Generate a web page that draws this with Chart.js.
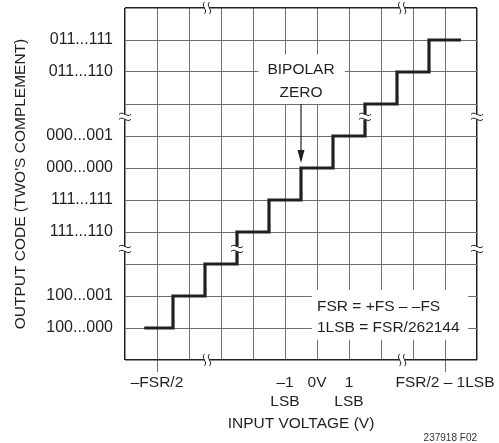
<!DOCTYPE html>
<html>
<head>
<meta charset="utf-8">
<script src="https://cdn.jsdelivr.net/npm/chart.js@4.4.1/dist/chart.umd.min.js"></script>
<style>
  html, body { margin: 0; padding: 0; background: #fff; }
  #wrap { width: 499px; height: 443px; position: relative; }
</style>
</head>
<body>
<div id="wrap"><canvas id="adcChart"></canvas></div>
<script>
"use strict";

// Output code tick positions (grid rows) and their labels
const codeTicks = [1, 2, 4, 5, 6, 7, 9, 10];
const codeLabels = ['100...000', '100...001', '111...110', '111...111',
                    '000...000', '000...001', '011...110', '011...111'];

// Input voltage tick positions (grid columns) and their labels
const voltTicks = [1, 5, 6, 7, 10];
const voltLabels = [['\u2013FSR/2'], ['\u20131', 'LSB'], ['0V'], ['1', 'LSB'], ['FSR/2 \u2013 1LSB']];

// Transfer staircase: input edges and output code levels
const stepInput = [0.6, 1.5, 2.5, 3.5, 4.5, 5.5, 6.5, 7.5, 8.5, 9.5, 10.5];
const stepCode  = [1, 2, 3, 4, 5, 6, 7, 8, 9, 10, 10];

// Where the axes / staircase are broken (data units)
const breaksOnXAxis = [2.56, 8.66];
const breaksOnYAxis = [3.47, 7.6];
const breaksOnStair = [[3.5, 3.47], [7.5, 7.6]];

const FONT = '"Liberation Sans", Arial, sans-serif';
const INK = '#231f20';
const GRID = '#6d6e71';

const codeMap = {};
codeTicks.forEach((v, i) => { codeMap[v] = codeLabels[i]; });
const voltMap = {};
voltTicks.forEach((v, i) => { voltMap[v] = voltLabels[i]; });

function drawWave(ctx, x, y, vertical) {
    // a small tilde, horizontal or rotated 90deg
    ctx.beginPath();
    if (vertical) {
        ctx.moveTo(x, y - 6);
        ctx.bezierCurveTo(x - 4, y - 2, x + 4, y + 2, x, y + 6);
    } else {
        ctx.moveTo(x - 6, y);
        ctx.bezierCurveTo(x - 2, y - 4, x + 2, y + 4, x + 6, y);
    }
    ctx.stroke();
}

function drawBreak(ctx, px, py, vertical) {
    ctx.save();
    ctx.fillStyle = '#fff';
    ctx.strokeStyle = INK;
    ctx.lineWidth = 1;
    if (vertical) {
        // break in a horizontal line
        ctx.fillRect(px - 2.5, py - 4, 5, 8);
        drawWave(ctx, px - 2.5, py, true);
        drawWave(ctx, px + 2.5, py, true);
    } else {
        // break in a vertical line
        ctx.fillRect(px - 4, py - 2.5, 8, 5);
        drawWave(ctx, px, py - 2.5, false);
        drawWave(ctx, px, py + 2.5, false);
    }
    ctx.restore();
}

const notesPlugin = {
    id: 'notes',
    afterDraw(chart) {
        const ctx = chart.ctx;
        const xs = chart.scales.x;
        const ys = chart.scales.y;
        const area = chart.chartArea;

        // axis breaks
        breaksOnXAxis.forEach(v => {
            const px = xs.getPixelForValue(v);
            drawBreak(ctx, px, area.top, true);
            drawBreak(ctx, px, area.bottom, true);
        });
        breaksOnYAxis.forEach(v => {
            const py = ys.getPixelForValue(v);
            drawBreak(ctx, area.left, py, false);
            drawBreak(ctx, area.right, py, false);
        });
        breaksOnStair.forEach(p => {
            drawBreak(ctx, xs.getPixelForValue(p[0]), ys.getPixelForValue(p[1]), false);
        });

        ctx.save();
        ctx.font = '15.5px ' + FONT;
        ctx.fillStyle = INK;

        // BIPOLAR ZERO label with arrow
        const bx = xs.getPixelForValue(5.5);
        ctx.fillStyle = '#fff';
        ctx.fillRect(xs.getPixelForValue(4.17), ys.getPixelForValue(9.55),
                     xs.getPixelForValue(6.87) - xs.getPixelForValue(4.17),
                     ys.getPixelForValue(8.0) - ys.getPixelForValue(9.55));
        ctx.fillStyle = INK;
        ctx.textAlign = 'center';
        ctx.textBaseline = 'middle';
        ctx.fillText('BIPOLAR', bx, ys.getPixelForValue(9.06));
        ctx.fillText('ZERO', bx, ys.getPixelForValue(8.36));
        const a0 = ys.getPixelForValue(8.0);
        const a1 = ys.getPixelForValue(6.0) - 5;
        ctx.strokeStyle = INK;
        ctx.lineWidth = 1.2;
        ctx.beginPath();
        ctx.moveTo(bx, a0);
        ctx.lineTo(bx, a1 - 8);
        ctx.stroke();
        ctx.beginPath();
        ctx.moveTo(bx - 3.5, a1 - 13);
        ctx.lineTo(bx, a1);
        ctx.lineTo(bx + 3.5, a1 - 13);
        ctx.closePath();
        ctx.fill();

        // FSR note
        ctx.fillStyle = '#fff';
        ctx.fillRect(xs.getPixelForValue(5.84), ys.getPixelForValue(2.2),
                     xs.getPixelForValue(10.72) - xs.getPixelForValue(5.84),
                     ys.getPixelForValue(0.63) - ys.getPixelForValue(2.2));
        ctx.fillStyle = INK;
        ctx.textAlign = 'left';
        const fx = xs.getPixelForValue(6.0);
        ctx.fillText('FSR = +FS \u2013 \u2013FS', fx, ys.getPixelForValue(1.65));
        ctx.fillText('1LSB = FSR/262144', fx, ys.getPixelForValue(1.0));

        // figure id
        ctx.font = '10px ' + FONT;
        ctx.fillStyle = '#333';
        ctx.textAlign = 'right';
        ctx.fillText('237918 F02', 477, 438);
        ctx.restore();
    }
};

const gridColor = c => (c.tick && (c.tick.value === 0 || c.tick.value === 11)) ? INK : GRID;
const gridWidth = c => (c.tick && (c.tick.value === 0 || c.tick.value === 11)) ? 1.5 : 1;

new Chart(document.getElementById('adcChart'), {
    type: 'line',
    data: {
        datasets: [{
            data: stepInput.map((x, i) => ({ x: x, y: stepCode[i] })),
            stepped: true,
            borderColor: INK,
            borderWidth: 3.2,
            pointRadius: 0,
            fill: false
        }]
    },
    options: {
        responsive: true,
        maintainAspectRatio: false,
        animation: false,
        events: [],
        layout: { padding: { top: 8, right: 22, left: 0, bottom: 0 } },
        plugins: {
            legend: { display: false },
            tooltip: { enabled: false }
        },
        scales: {
            x: {
                type: 'linear',
                min: 0,
                max: 11,
                afterFit: s => {
                    s.height = 83;
                    s.paddingLeft = 0;
                    s.paddingRight = 0;
                },
                afterBuildTicks: s => {
                    s.ticks = [0, 1, 2, 3, 4, 5, 6, 7, 8, 9, 10, 11].map(v => ({ value: v }));
                },
                border: { display: false },
                grid: {
                    color: gridColor,
                    lineWidth: gridWidth,
                    drawTicks: true,
                    tickLength: 12,
                    tickColor: c => (c.tick && (c.tick.value === 1 || c.tick.value === 10)) ? GRID : 'rgba(0,0,0,0)',
                    tickWidth: 1
                },
                ticks: {
                    autoSkip: false,
                    maxRotation: 0,
                    padding: 1,
                    color: INK,
                    font: { family: FONT, size: 15.5, lineHeight: 1.25 },
                    callback: v => voltMap[v] || ''
                },
                title: {
                    display: true,
                    text: 'INPUT VOLTAGE (V)',
                    color: INK,
                    font: { family: FONT, size: 15.5 },
                    padding: { top: 0, bottom: 10 }
                }
            },
            y: {
                type: 'linear',
                min: 0,
                max: 11,
                afterFit: s => {
                    s.width = 125;
                    s.paddingTop = 0;
                    s.paddingBottom = 0;
                },
                afterBuildTicks: s => {
                    s.ticks = [0, 1, 2, 3, 4, 5, 6, 7, 8, 9, 10, 11].map(v => ({ value: v }));
                },
                border: { display: false },
                grid: {
                    color: gridColor,
                    lineWidth: gridWidth,
                    drawTicks: false
                },
                ticks: {
                    autoSkip: false,
                    padding: 12,
                    color: INK,
                    font: { family: FONT, size: 16 },
                    callback: v => codeMap[v] || ''
                },
                title: {
                    display: true,
                    text: "OUTPUT CODE (TWO'S COMPLEMENT)",
                    color: INK,
                    font: { family: FONT, size: 15.5 },
                    padding: { top: 11, bottom: 0 }
                }
            }
        }
    },
    plugins: [notesPlugin]
});
</script>
</body>
</html>
